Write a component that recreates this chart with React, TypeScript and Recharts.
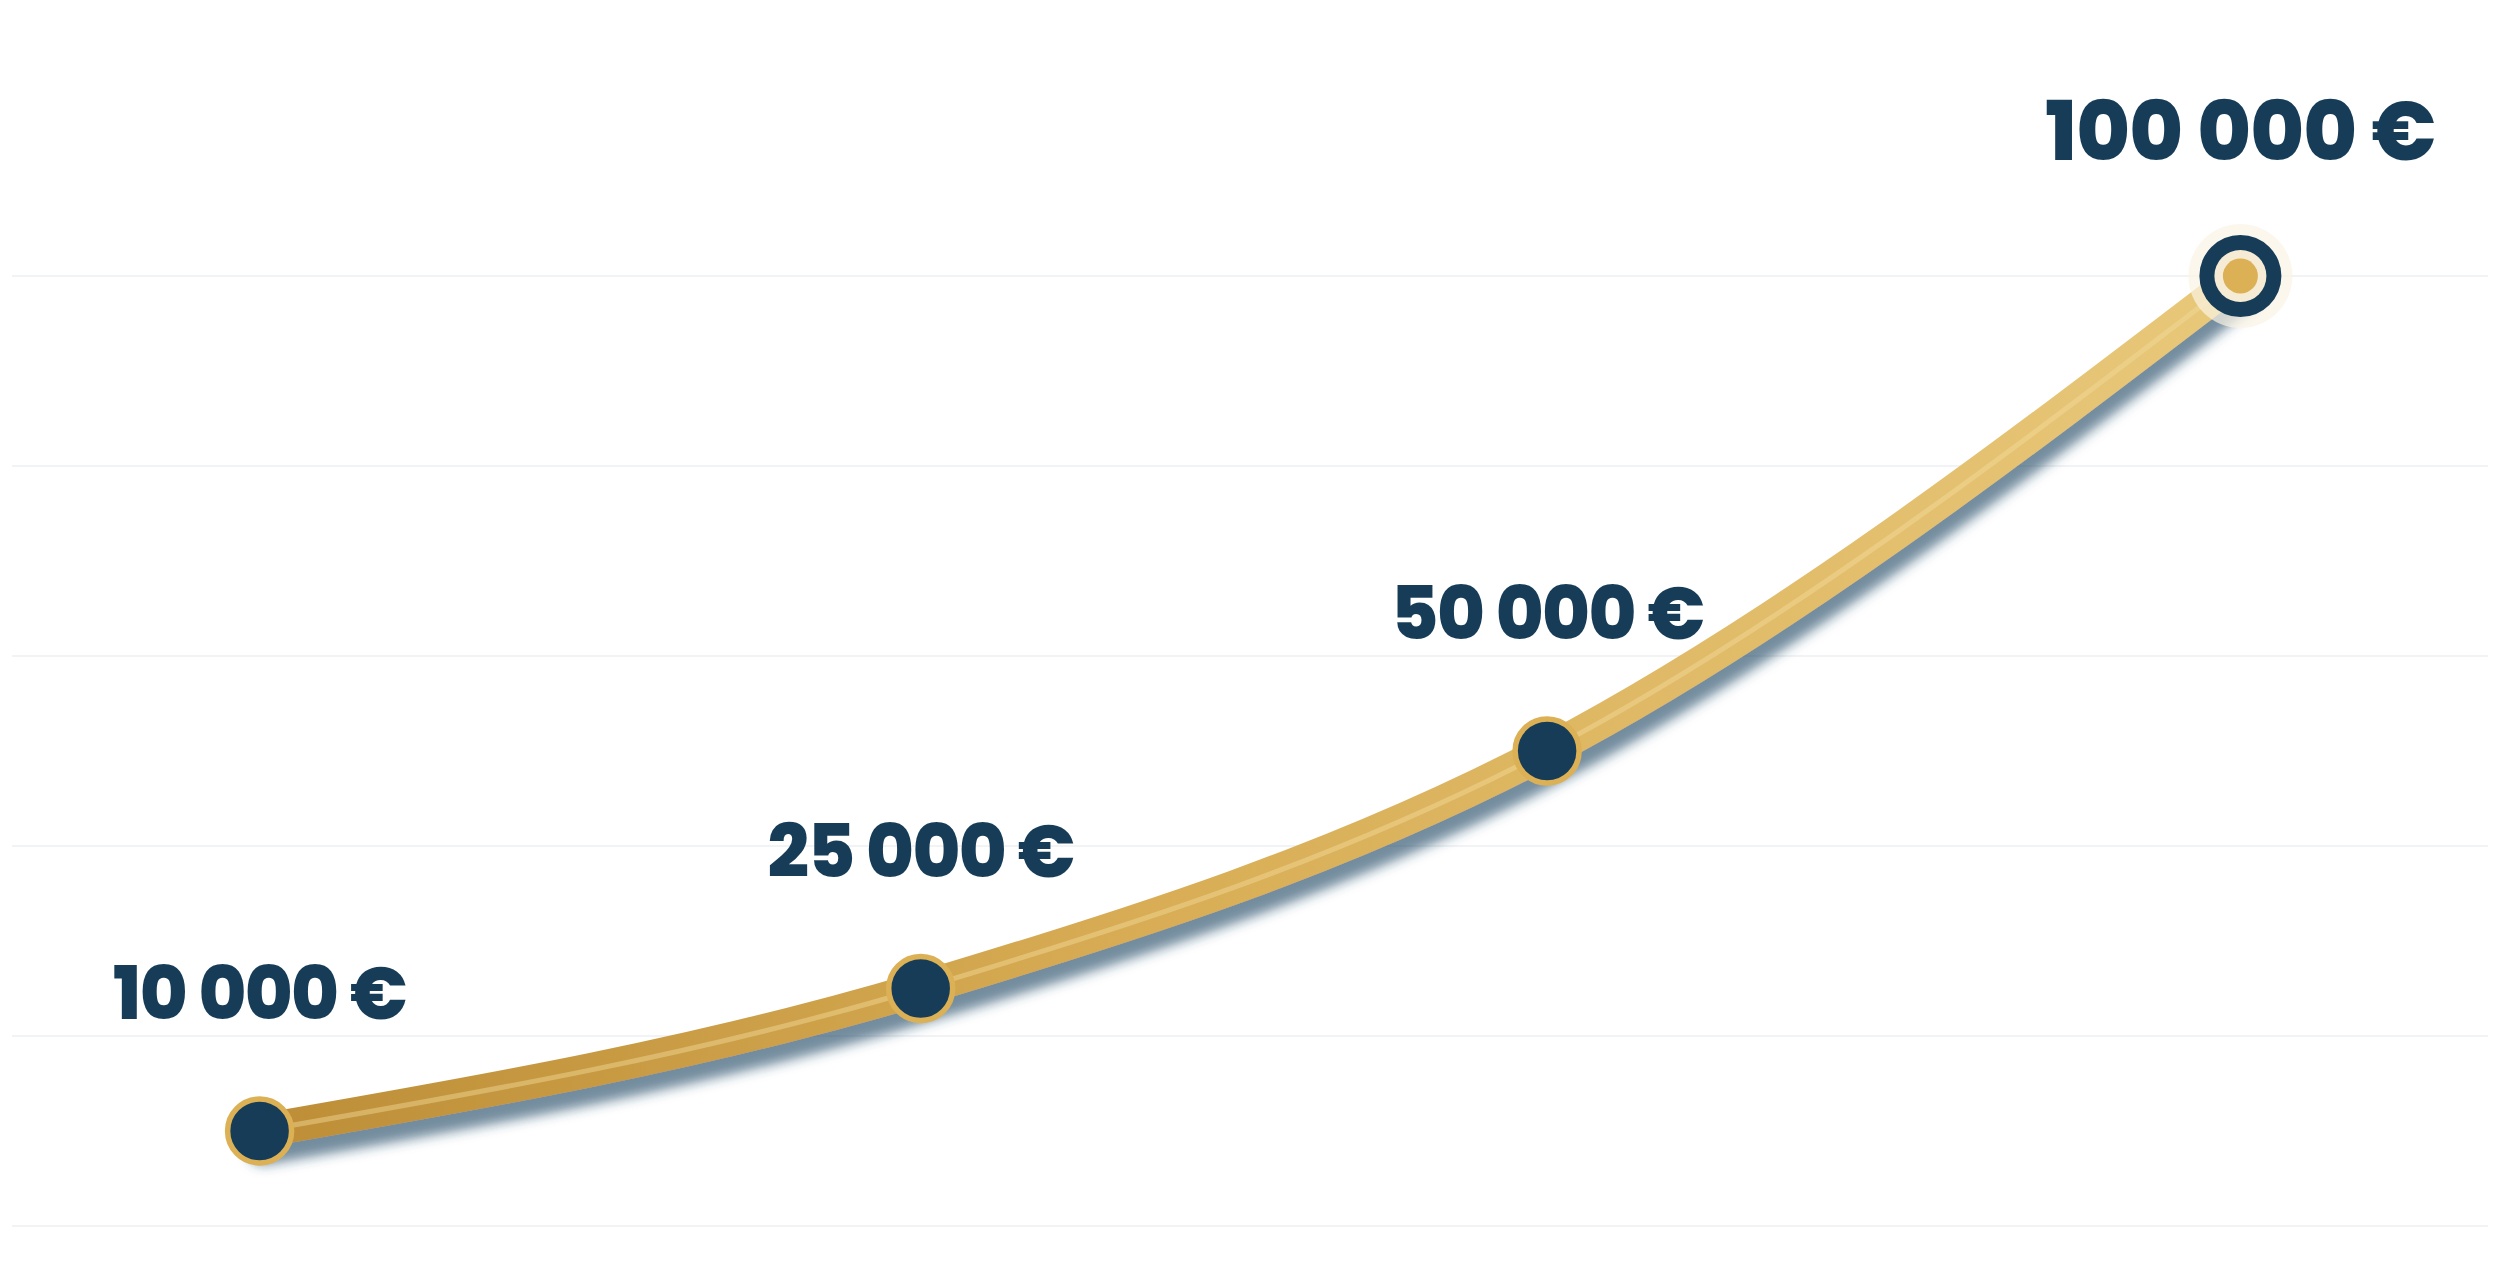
import { LineChart, Line, XAxis, YAxis, CartesianGrid, LabelList } from "recharts";

// Capital growth curve: four milestones on a hidden 0–100k axis.
const steps = [10, 36.7, 62, 90];
const amounts = [10000, 25000, 50000, 100000];
const yTicks = [0, 20000, 40000, 60000, 80000, 100000];

const NAVY = "#163c58";
const GOLD = "#dcb055";

const data = steps.map((step, i) => ({ step, amount: amounts[i] }));

const fmt = (v: number) => String(v).replace(/\B(?=(\d{3})+(?!\d))/g, " ") + " €";

function Marker(props: any) {
  const { cx, cy, index } = props;
  if (cx == null || cy == null) return null;
  if (index === amounts.length - 1) {
    return (
      <g>
        <circle cx={cx} cy={cy} r={52} fill="#fbf4e4" opacity={0.7} />
        <circle cx={cx} cy={cy} r={41} fill={NAVY} />
        <circle cx={cx} cy={cy} r={26} fill="#f6ecd6" />
        <circle cx={cx} cy={cy} r={17.5} fill={GOLD} />
      </g>
    );
  }
  return <circle cx={cx} cy={cy} r={32} fill={NAVY} stroke={GOLD} strokeWidth={5.5} />;
}

function AmountLabel(props: any) {
  const { x, y, value, index } = props;
  const last = index === amounts.length - 1;
  return (
    <text
      x={x}
      y={y - (last ? 116 : 112)}
      textAnchor="middle"
      fill={NAVY}
      fontSize={last ? 82 : 73}
      fontWeight={800}
      letterSpacing={last ? -0.8 : -1.6}
      fontFamily="Poppins, Inter, sans-serif"
    >
      {fmt(value)}
    </text>
  );
}

export default function App() {
  return (
    <div style={{ position: "absolute", left: 0, top: 0, background: "#fff" }}>
      <LineChart width={2500} height={1275} data={data} margin={{ top: 276, right: 12, bottom: 49, left: 12 }}>
        <defs>
          <linearGradient id="goldLine" x1="0" y1="0" x2="1" y2="0">
            <stop offset="0%" stopColor="#bd8e37" />
            <stop offset="45%" stopColor="#d8ad55" />
            <stop offset="100%" stopColor="#e8c87a" />
          </linearGradient>
          <filter id="lineShadow" x="-10%" y="-10%" width="120%" height="130%">
            <feDropShadow dx="4" dy="17" stdDeviation="6" floodColor="#1f4764" floodOpacity={0.62} />
          </filter>
        </defs>
        <CartesianGrid vertical={false} stroke="#f1f3f5" strokeWidth={2} />
        <XAxis type="number" dataKey="step" domain={[0, 100]} hide />
        <YAxis type="number" domain={[0, 100000]} ticks={yTicks} hide />
        <Line
          type="monotone"
          dataKey="amount"
          stroke="url(#goldLine)"
          strokeWidth={34}
          strokeLinecap="round"
          dot={false}
          activeDot={false}
          filter="url(#lineShadow)"
          isAnimationActive={false}
        />
        <Line
          type="monotone"
          dataKey="amount"
          stroke="#f4dc9c"
          strokeOpacity={0.45}
          strokeWidth={5}
          dot={<Marker />}
          activeDot={false}
          isAnimationActive={false}
        >
          <LabelList dataKey="amount" content={<AmountLabel />} />
        </Line>
      </LineChart>
    </div>
  );
}
